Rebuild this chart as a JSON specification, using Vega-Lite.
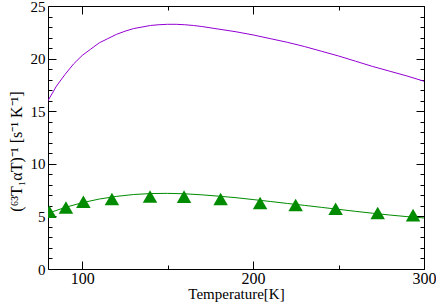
{
  "$schema": "https://vega.github.io/schema/vega-lite/v6.json",
  "width": 376,
  "height": 263,
  "autosize": {"type": "none"},
  "padding": {"left": 48, "top": 6, "right": 12, "bottom": 33},
  "background": "white",
  "config": {
    "view": {"stroke": null},
    "font": "Liberation Serif",
    "axis": {
      "labelFont": "Liberation Serif",
      "titleFont": "Liberation Serif",
      "labelFontSize": 16,
      "titleFontSize": 15,
      "titleFontWeight": "normal",
      "labelColor": "black",
      "titleColor": "black",
      "domainColor": "black",
      "tickColor": "black",
      "grid": false
    }
  },
  "datasets": {
    "purple": [
      {"T": 80, "v": 16.0}, {"T": 85, "v": 17.4}, {"T": 90, "v": 18.5}, {"T": 95, "v": 19.5},
      {"T": 100, "v": 20.3}, {"T": 105, "v": 20.9}, {"T": 110, "v": 21.5}, {"T": 115, "v": 21.9},
      {"T": 120, "v": 22.3}, {"T": 125, "v": 22.6}, {"T": 130, "v": 22.85}, {"T": 135, "v": 23.0},
      {"T": 140, "v": 23.15}, {"T": 145, "v": 23.22}, {"T": 150, "v": 23.26}, {"T": 155, "v": 23.26},
      {"T": 160, "v": 23.22}, {"T": 165, "v": 23.15}, {"T": 170, "v": 23.05}, {"T": 180, "v": 22.8},
      {"T": 190, "v": 22.55}, {"T": 200, "v": 22.25}, {"T": 210, "v": 21.9}, {"T": 220, "v": 21.55},
      {"T": 230, "v": 21.15}, {"T": 240, "v": 20.7}, {"T": 250, "v": 20.25}, {"T": 260, "v": 19.75},
      {"T": 270, "v": 19.25}, {"T": 280, "v": 18.8}, {"T": 290, "v": 18.35}, {"T": 300, "v": 17.85}
    ],
    "greenline": [
      {"T": 80, "v": 5.3}, {"T": 90, "v": 5.85}, {"T": 100, "v": 6.3}, {"T": 110, "v": 6.65},
      {"T": 120, "v": 6.9}, {"T": 130, "v": 7.08}, {"T": 140, "v": 7.17}, {"T": 150, "v": 7.19},
      {"T": 160, "v": 7.15}, {"T": 170, "v": 7.05}, {"T": 180, "v": 6.92}, {"T": 190, "v": 6.78},
      {"T": 200, "v": 6.6}, {"T": 210, "v": 6.42}, {"T": 220, "v": 6.23}, {"T": 230, "v": 6.05},
      {"T": 240, "v": 5.86}, {"T": 250, "v": 5.67}, {"T": 260, "v": 5.48}, {"T": 270, "v": 5.3},
      {"T": 280, "v": 5.13}, {"T": 290, "v": 4.98}, {"T": 300, "v": 4.85}
    ],
    "tri": [
      {"T": 80.8, "v": 5.45}, {"T": 90.5, "v": 5.85}, {"T": 100.7, "v": 6.4}, {"T": 117.4, "v": 6.65},
      {"T": 139.7, "v": 6.9}, {"T": 159.6, "v": 6.88}, {"T": 181.0, "v": 6.65}, {"T": 204.1, "v": 6.28},
      {"T": 224.9, "v": 6.08}, {"T": 248.3, "v": 5.72}, {"T": 272.9, "v": 5.33}, {"T": 293.6, "v": 5.12}
    ]
  },
  "resolve": {"axis": {"x": "independent", "y": "independent"}},
  "layer": [
    {
      "data": {"name": "purple"},
      "mark": {"type": "line", "color": "#9400d3", "strokeWidth": 1, "clip": true},
      "encoding": {
        "x": {
          "field": "T", "type": "quantitative",
          "scale": {"domain": [80, 300], "nice": false, "zero": false},
          "axis": {
            "orient": "bottom",
            "values": [100, 150, 200, 250, 300],
            "title": "Temperature[K]",
            "titleBaseline": "alphabetic",
            "titleY": 29,
            "labelExpr": "datum.value % 100 === 0 ? datum.label : ''",
            "tickSize": {"condition": {"test": "datum.value % 100 !== 0", "value": -4}, "value": -8},
            "labelPadding": 9,
            "labelFlush": false,
            "labelOverlap": false
          }
        },
        "y": {
          "field": "v", "type": "quantitative",
          "scale": {"domain": [0, 25], "nice": false},
          "axis": {
            "orient": "left",
            "values": [0,1,2,3,4,5,6,7,8,9,10,11,12,13,14,15,16,17,18,19,20,21,22,23,24,25],
            "title": "(⁶³T₁αT)⁻¹ [s⁻¹ K⁻¹]",
            "titleFontSize": 16,
            "titleBaseline": "alphabetic",
            "titleX": -27,
            "titleY": 145,
            "labelFontSize": 15,
            "labelExpr": "datum.value % 5 === 0 ? datum.label : ''",
            "tickSize": {"condition": {"test": "datum.value % 5 !== 0", "value": -4}, "value": -8},
            "labelPadding": 11,
            "labelFlush": false,
            "labelOverlap": false
          }
        }
      }
    },
    {
      "data": {"name": "greenline"},
      "mark": {"type": "line", "color": "#008b00", "strokeWidth": 1, "clip": true},
      "encoding": {
        "x": {
          "field": "T", "type": "quantitative",
          "axis": {
            "orient": "top",
            "values": [100, 150, 200, 250, 300],
            "title": null,
            "labels": false,
            "tickSize": {"condition": {"test": "datum.value % 100 !== 0", "value": -4}, "value": -8}
          }
        },
        "y": {
          "field": "v", "type": "quantitative",
          "axis": {
            "orient": "right",
            "values": [0,1,2,3,4,5,6,7,8,9,10,11,12,13,14,15,16,17,18,19,20,21,22,23,24,25],
            "title": null,
            "labels": false,
            "tickSize": {"condition": {"test": "datum.value % 5 !== 0", "value": -4}, "value": -8}
          }
        }
      }
    },
    {
      "data": {"name": "tri"},
      "mark": {"type": "point", "shape": "triangle-up", "filled": true, "color": "#008b00", "opacity": 1, "size": 210, "clip": true},
      "encoding": {
        "x": {"field": "T", "type": "quantitative", "axis": null},
        "y": {"field": "v", "type": "quantitative", "axis": null}
      }
    }
  ]
}
